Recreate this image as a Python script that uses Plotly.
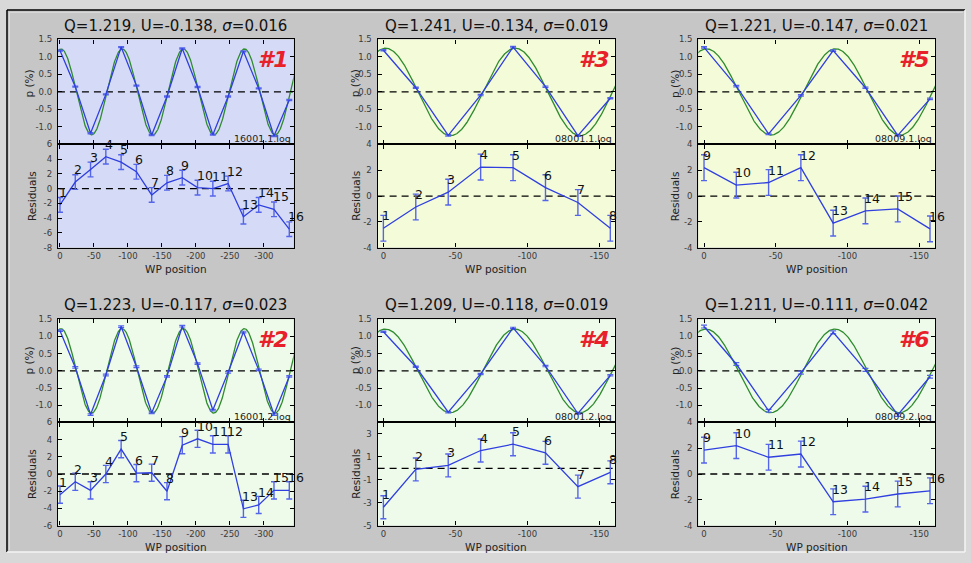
import plotly.graph_objects as go
import numpy as np

W, H = 971, 563

# ---- fit results per panel (order: top row #1 #3 #5, bottom row #2 #4 #6) ----
panel_tags = ["#1", "#3", "#5", "#2", "#4", "#6"]
q_values = [1.219, 1.241, 1.221, 1.223, 1.209, 1.211]
u_values = [-0.138, -0.134, -0.147, -0.117, -0.118, -0.111]
sigma_values = [0.016, 0.019, 0.021, 0.023, 0.019, 0.042]
log_files = ["16001.1.log", "08001.1.log", "08009.1.log",
             "16001.2.log", "08001.2.log", "08009.2.log"]

# ---- waveplate positions (deg) ----
wp_16 = [0.0, -22.5, -45.0, -67.5, -90.0, -112.5, -135.0, -157.5,
         -180.0, -202.5, -225.0, -247.5, -270.0, -292.5, -315.0, -337.5]
wp_8 = [0.0, -22.5, -45.0, -67.5, -90.0, -112.5, -135.0, -157.5]

# ---- measured polarisation p (%) ----
p_1 = [1.18, 0.15, -1.18, -0.07, 1.28, 0.18, -1.23, -0.13,
       1.24, 0.14, -1.22, -0.13, 1.16, 0.10, -1.26, -0.23]
p_3 = [1.19, 0.12, -1.24, -0.09, 1.28, 0.15, -1.25, -0.18]
p_5 = [1.27, 0.165, -1.20, -0.10, 1.18, 0.12, -1.24, -0.20]
p_2 = [1.17, 0.10, -1.27, -0.12, 1.29, 0.12, -1.22, -0.16,
       1.30, 0.21, -1.14, -0.04, 1.13, 0.03, -1.27, -0.16]
p_4 = [1.14, 0.12, -1.20, -0.09, 1.25, 0.14, -1.24, -0.13]
p_6 = [1.29, 0.20, -1.16, -0.05, 1.12, 0.03, -1.28, -0.17]

# ---- residuals (units of sigma) ----
resid_1 = [-2.2, 0.9, 2.6, 4.35, 3.6, 2.3, -0.85, 0.8,
           1.5, 0.15, 0.0, 0.7, -3.8, -2.2, -2.8, -5.5]
resid_3 = [-2.5, -0.85, 0.3, 2.25, 2.2, 0.65, -0.5, -2.5]
resid_5 = [2.2, 0.85, 1.05, 2.2, -2.1, -1.15, -1.0, -2.55]
resid_2 = [-2.4, -0.9, -1.9, 0.0, 2.9, 0.1, 0.15, -2.0,
           3.35, 4.1, 3.45, 3.45, -4.05, -3.6, -1.9, -1.9]
resid_4 = [-3.4, -0.1, 0.25, 1.55, 2.1, 1.35, -1.6, -0.35]
resid_6 = [1.85, 2.2, 1.3, 1.55, -2.15, -1.95, -1.55, -1.3]
resid_err = 1.0

# ---- frame numbers written next to each residual point ----
ids_16 = ["1", "2", "3", "4", "5", "6", "7", "8",
          "9", "10", "11", "12", "13", "14", "15", "16"]
ids_lo = ["1", "2", "3", "4", "5", "6", "7", "8"]
ids_hi = ["9", "10", "11", "12", "13", "14", "15", "16"]

# ---- axis ticks ----
x_ticks_16 = [0, -50, -100, -150, -200, -250, -300]
x_ticks_8 = [0, -50, -100, -150]
p_ticks = [-1.0, -0.5, 0.0, 0.5, 1.0, 1.5]
resid_ticks = [[6, 4, 2, 0, -2, -4, -6, -8], [4, 2, 0, -2, -4], [4, 2, 0, -2, -4],
               [6, 4, 2, 0, -2, -4, -6], [3, 1, -1, -3, -5], [4, 2, 0, -2, -4]]
resid_ranges = [[-8, 6], [-4, 4], [-4, 4], [-6, 6], [-5, 4], [-4, 4]]

panels = [
    (wp_16, p_1, resid_1, ids_16, x_ticks_16),
    (wp_8, p_3, resid_3, ids_lo, x_ticks_8),
    (wp_8, p_5, resid_5, ids_hi, x_ticks_8),
    (wp_16, p_2, resid_2, ids_16, x_ticks_16),
    (wp_8, p_4, resid_4, ids_lo, x_ticks_8),
    (wp_8, p_6, resid_6, ids_hi, x_ticks_8),
]

# ---- geometry in pixels ----
col_left = [57, 377, 698]
col_right = [293, 615, 935]
row_top = [35, 320]       # top of the p(%) axes
row_mid = [142, 425]      # boundary between p(%) and residual axes
row_bot = [247, 530]      # bottom of residual axes
title_y = [21, 305]
xlabel_y = [269, 552]
plabel_y = [80, 362]
plabel_x = [28, 354, 674]
rlabel_x = [31, 355, 675]

bg_colors = ["#d5dbf6", "#f4fbd8", "#f4fbd8", "#eefbea", "#eefbea", "#eefbea"]

BLUE = "#2f3fe0"
EBLUE = "#5565ea"
GREEN = "#2e8b2e"
FONT = "DejaVu Sans"


def fx(px):
    return px / W


def fy(py):
    return 1 - py / H


def fmt(v, dec):
    return f"{v:.{dec}f}"


fig = go.Figure()
layout = {}
shapes = []
annotations = []

# window background with a sunken frame
shapes += [
    dict(type="rect", xref="paper", yref="paper", x0=fx(6), x1=fx(965), y0=fy(557), y1=fy(5),
         fillcolor="#c6c6c6", line=dict(width=0), layer="below"),
    dict(type="line", xref="paper", yref="paper", x0=fx(6), x1=fx(965), y0=fy(5), y1=fy(5),
         line=dict(color="#000000", width=1.5), layer="below"),
    dict(type="line", xref="paper", yref="paper", x0=fx(6), x1=fx(6), y0=fy(557), y1=fy(5),
         line=dict(color="#000000", width=1.5), layer="below"),
    dict(type="line", xref="paper", yref="paper", x0=fx(8), x1=fx(963), y0=fy(7.5), y1=fy(7.5),
         line=dict(color="#dcdcdc", width=1), layer="below"),
    dict(type="line", xref="paper", yref="paper", x0=fx(8.5), x1=fx(8.5), y0=fy(555), y1=fy(7.5),
         line=dict(color="#dcdcdc", width=1), layer="below"),
    dict(type="line", xref="paper", yref="paper", x0=fx(6), x1=fx(965), y0=fy(557), y1=fy(557),
         line=dict(color="#f4f4f4", width=1.5), layer="below"),
    dict(type="line", xref="paper", yref="paper", x0=fx(965), x1=fx(965), y0=fy(557), y1=fy(5),
         line=dict(color="#f4f4f4", width=1.5), layer="below"),
]


def axname(n, letter):
    return letter if n == 1 else f"{letter}{n}"


for k, (wp, p, resid, ids, xt) in enumerate(panels):
    r, c = divmod(k, 3)
    ta, ra = 2 * k + 1, 2 * k + 2
    tx, ty = axname(ta, "x"), axname(ta, "y")
    rx, ry = axname(ra, "x"), axname(ra, "y")
    q, u, sig = q_values[k], u_values[k], sigma_values[k]

    xr = [3, -344] if len(wp) == 16 else [4, -161]
    xdom = [fx(col_left[c]), fx(col_right[c])]
    top_dom = [fy(row_mid[r]), fy(row_top[r])]
    res_dom = [fy(row_bot[r]), fy(row_mid[r])]

    common_x = dict(range=xr, domain=xdom, showgrid=False, zeroline=False,
                    showline=True, mirror="ticks", linecolor="#000000", linewidth=1.3,
                    ticks="inside", ticklen=4, tickcolor="#000000",
                    tickvals=xt, ticktext=[fmt(v, 0) for v in xt],
                    tickfont=dict(family=FONT, size=8.5, color="#3a3a3a"))
    common_y = dict(showgrid=False, zeroline=False, showline=True, mirror="ticks",
                    linecolor="#000000", linewidth=1.3, ticks="inside", ticklen=4,
                    tickcolor="#000000", ticklabelstandoff=3,
                    tickfont=dict(family=FONT, size=8.5, color="#3a3a3a"))

    layout[axname(ta, "xaxis")] = dict(common_x, anchor=ty, showticklabels=False, matches=rx)
    layout[axname(ta, "yaxis")] = dict(common_y, anchor=tx, domain=top_dom, range=[-1.5, 1.5],
                                       tickvals=p_ticks, ticktext=[fmt(v, 1) for v in p_ticks])
    layout[axname(ra, "xaxis")] = dict(common_x, anchor=ry, ticklabelstandoff=0)
    layout[axname(ra, "yaxis")] = dict(common_y, anchor=rx, domain=res_dom, range=resid_ranges[k],
                                       tickvals=resid_ticks[k],
                                       ticktext=[fmt(v, 0) for v in resid_ticks[k]])

    # panel backgrounds and dashed zero lines
    for xa, ya in ((tx, ty), (rx, ry)):
        shapes.append(dict(type="rect", xref=f"{xa} domain", yref=f"{ya} domain",
                           x0=0, x1=1, y0=0, y1=1, fillcolor=bg_colors[k],
                           line=dict(width=0), layer="below"))
        shapes.append(dict(type="line", xref=f"{xa} domain", yref=ya, x0=0, x1=1, y0=0, y1=0,
                           line=dict(color="#000000", width=1.3, dash="7px,5px"), layer="below"))

    # fitted modulation curve
    theta = np.linspace(xr[0] + 2, xr[1] - 4, 600)
    model = q * np.cos(np.radians(4 * theta)) + u * np.sin(np.radians(4 * theta))
    fig.add_trace(go.Scatter(x=theta, y=model, xaxis=tx, yaxis=ty, mode="lines",
                             line=dict(color=GREEN, width=1.3), hoverinfo="skip",
                             showlegend=False))
    # measured p
    fig.add_trace(go.Scatter(x=wp, y=p, xaxis=tx, yaxis=ty, mode="lines",
                             line=dict(color=BLUE, width=1.3),
                             error_y=dict(type="constant", value=sig, color=EBLUE,
                                          thickness=1.2, width=3),
                             showlegend=False))
    # residuals
    fig.add_trace(go.Scatter(x=wp, y=resid, xaxis=rx, yaxis=ry, mode="lines",
                             line=dict(color=BLUE, width=1.3),
                             error_y=dict(type="constant", value=resid_err, color=EBLUE,
                                          thickness=1.4, width=3),
                             showlegend=False))

    for xv, yv, lab in zip(wp, resid, ids):
        annotations.append(dict(x=xv, y=yv, xref=rx, yref=ry, text=lab, showarrow=False,
                                xanchor="left", yanchor="bottom", yshift=4, xshift=-2,
                                borderpad=0,
                                font=dict(family=FONT, size=12.5, color="#111111")))

    xc = (col_left[c] + col_right[c]) / 2
    annotations += [
        dict(x=fx(xc), y=fy(title_y[r]), xref="paper", yref="paper", showarrow=False,
             text=f"Q={q:.3f}, U={u:.3f}, <i>σ</i>={sig:.3f}", xanchor="center",
             yanchor="middle", font=dict(family=FONT, size=15, color="#111111")),
        dict(x=fx(xc), y=fy(xlabel_y[r]), xref="paper", yref="paper", showarrow=False,
             text="WP position", xanchor="center", yanchor="middle",
             font=dict(family=FONT, size=10.5, color="#222222")),
        dict(x=fx(plabel_x[c]), y=fy(plabel_y[r]), xref="paper", yref="paper", showarrow=False,
             text="p (%)", textangle=-90, xanchor="center", yanchor="middle",
             font=dict(family=FONT, size=10.5, color="#222222")),
        dict(x=fx(rlabel_x[c]), y=fy((row_mid[r] + row_bot[r]) / 2), xref="paper", yref="paper",
             showarrow=False, text="Residuals", textangle=-90, xanchor="center",
             yanchor="middle", font=dict(family=FONT, size=10.5, color="#222222")),
        dict(x=1, y=1, xref=f"{tx} domain", yref=f"{ty} domain", showarrow=False,
             text=f"<b><i>{panel_tags[k]}</i></b>", xanchor="right", yanchor="top",
             xshift=-3, yshift=-6, font=dict(family=FONT, size=22, color="#e8202a")),
        dict(x=1, y=0, xref=f"{tx} domain", yref=f"{ty} domain", showarrow=False,
             text=log_files[k], xanchor="right", yanchor="bottom", xshift=-1, yshift=-2,
             font=dict(family=FONT, size=9.5, color="#222222")),
    ]

fig.update_layout(
    width=W, height=H,
    margin=dict(l=0, r=0, t=0, b=0),
    paper_bgcolor="#d8d8d8",
    plot_bgcolor="rgba(0,0,0,0)",
    shapes=shapes,
    annotations=annotations,
    showlegend=False,
    **layout,
)

fig.write_html("out.html")
